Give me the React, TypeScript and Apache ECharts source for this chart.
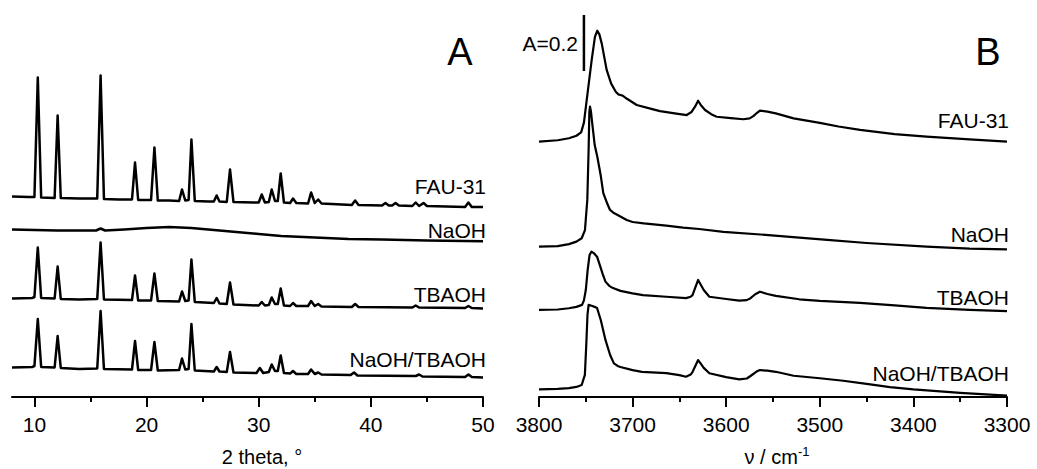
import React, { useEffect, useRef } from "react";
import * as echarts from "echarts";

const FONT = "'Liberation Sans', Arial, Helvetica, sans-serif";

// ---------- Panel A : XRD (2 theta, intensity a.u. incl. stacking offset) ----------
const xrdMajorTicks = [10, 20, 30, 40, 50];
const xrdMinorTicks = [15, 25, 35, 45];

const xrdFAU31: [number, number][] = [
  [8, 200.5], [9.5, 200], [10.0, 200], [10.3, 319.5], [10.6, 199.5], [11.8, 199], [12.07, 281.5], [12.35, 199],
  [14, 198.5], [15.6, 198.5], [15.9, 321.5], [16.2, 198], [17.5, 197.5], [18.7, 197.5], [18.97, 234.5], [19.25, 197],
  [20.4, 197], [20.7, 249.5], [21.0, 196.5], [22, 196.5], [22.9, 196], [23.16, 207.5], [23.45, 196.5], [23.75, 197],
  [24.0, 257.5], [24.3, 196], [25.5, 195.5], [26.0, 195.5], [26.25, 201.5], [26.5, 195.5], [27.15, 195], [27.44, 227.5],
  [27.75, 195], [29.5, 194.5], [30.0, 194.5], [30.27, 202.5], [30.55, 194.5], [30.9, 195], [31.16, 207.5], [31.45, 196],
  [31.7, 196], [31.96, 223.5], [32.25, 194.5], [32.8, 194], [33.06, 198.5], [33.35, 194], [34.4, 193.5], [34.67, 204.5],
  [35.0, 194], [35.3, 197.5], [35.6, 193.5], [38.3, 192], [38.6, 196.5], [38.9, 192], [41.0, 191.5], [41.3, 194],
  [41.6, 191.5], [41.9, 191.5], [42.2, 194], [42.5, 191.5], [43.7, 191], [44.0, 194.5], [44.3, 191], [44.7, 194],
  [45.0, 191], [48.4, 190], [48.7, 194.5], [49.0, 190], [50, 190],
];

const xrdNaOH: [number, number][] = [
  [8, 167.5], [10, 167], [12, 166.5], [14, 166.5], [15.5, 166.5], [15.9, 168.5], [16.3, 166.5], [18, 167.5],
  [20, 169], [22, 170], [24, 169], [26, 167], [28, 165], [30, 163], [32, 161], [35, 159.5], [38, 158],
  [41, 157.5], [45, 156.5], [50, 155.8],
];

const xrdTBAOH: [number, number][] = [
  [8, 98.5], [9.8, 99], [10.0, 100], [10.3, 149.5], [10.6, 99], [11.8, 98.5], [12.07, 130.5], [12.35, 98],
  [14, 97.5], [15.6, 98], [15.9, 154.5], [16.2, 97.5], [18.7, 97], [18.97, 121.5], [19.25, 96.5], [20.4, 96.5],
  [20.7, 123.5], [21.0, 96], [22.9, 95.5], [23.16, 105.5], [23.45, 96], [23.75, 96.5], [24.0, 137.5], [24.3, 95],
  [26.0, 94], [26.25, 99], [26.5, 93.5], [27.15, 93], [27.44, 114.5], [27.75, 92.5], [30.0, 91.5], [30.27, 95],
  [30.55, 91.5], [30.9, 92], [31.16, 99.5], [31.45, 93], [31.7, 93], [31.96, 108.5], [32.25, 91.5], [32.8, 91],
  [33.06, 94], [33.35, 91], [34.4, 91], [34.67, 96], [35.0, 91], [35.3, 93], [35.6, 90.5], [38.3, 90], [38.6, 93],
  [38.9, 90], [43.7, 89.5], [44.0, 91.5], [44.3, 89.5], [48.4, 89], [48.7, 91], [49.0, 89], [50, 88.5],
];

const xrdNaOHTBAOH: [number, number][] = [
  [8, 29.5], [9.8, 30], [10.0, 31], [10.3, 78], [10.6, 30], [11.8, 29.5], [12.07, 61], [12.35, 29], [14, 28],
  [15.6, 28.5], [15.9, 86], [16.2, 28], [18.7, 27.5], [18.97, 56], [19.25, 27], [20.4, 27], [20.7, 55], [21.0, 26.5],
  [22.9, 27], [23.16, 38.5], [23.45, 27.5], [23.75, 28], [24.0, 73], [24.3, 26.5], [26.0, 25.5], [26.25, 30],
  [26.5, 25.5], [27.15, 25], [27.44, 45], [27.75, 24.5], [29.8, 24], [30.1, 29], [30.4, 24], [30.9, 25], [31.16, 32.5],
  [31.45, 26], [31.7, 26], [31.96, 41.5], [32.25, 24], [32.8, 23.5], [33.06, 26], [33.35, 23], [34.4, 23],
  [34.67, 27.5], [35.0, 23], [35.3, 24.5], [35.6, 22.5], [38.2, 22], [38.5, 24.5], [38.8, 21.5], [44.0, 21],
  [44.3, 22.5], [44.6, 20.5], [48.4, 20], [48.7, 22.5], [49.0, 20], [50, 19.5],
];

// ---------- Panel B : IR (wavenumber, absorbance incl. stacking offset) ----------
const irFAU31: [number, number][] = [
  [3800, 0.912], [3780, 0.917], [3768, 0.924], [3760, 0.933], [3755, 0.945], [3752, 0.98], [3749, 1.061],
  [3743.7, 1.204], [3740.2, 1.287], [3737.7, 1.308], [3735.5, 1.295], [3733, 1.263], [3727.7, 1.168],
  [3723, 1.12], [3718, 1.09], [3715.3, 1.081], [3711, 1.077], [3706, 1.065], [3695.6, 1.043], [3680, 1.029],
  [3670.7, 1.021], [3655, 1.013], [3642.2, 1.007], [3637, 1.018], [3633.3, 1.037], [3630, 1.058], [3626.5, 1.04],
  [3622.6, 1.025], [3616, 1.01], [3610.2, 1.001], [3595, 0.996], [3581.7, 0.992], [3575, 0.995], [3571, 1.003],
  [3567, 1.015], [3564, 1.023], [3556, 1.019], [3547, 1.013], [3528, 0.995], [3500, 0.979], [3480, 0.966],
  [3457, 0.954], [3420, 0.939], [3386, 0.93], [3340, 0.92], [3300, 0.912],
];

const irNaOH: [number, number][] = [
  [3800, 0.537], [3780, 0.539], [3768, 0.546], [3760, 0.555], [3754.4, 0.567], [3750.9, 0.596], [3748.4, 0.704],
  [3747, 0.882], [3746.2, 1.018], [3745.5, 1.037], [3744.5, 1.02], [3743.5, 0.989], [3740.5, 0.9], [3737.7, 0.858],
  [3734, 0.79], [3731.3, 0.728], [3727, 0.69], [3724.1, 0.668], [3720, 0.657], [3716, 0.65], [3706.3, 0.632],
  [3700, 0.625], [3688, 0.62], [3664, 0.612], [3646, 0.605], [3629, 0.6], [3603, 0.59], [3558, 0.579],
  [3522, 0.569], [3492, 0.561], [3450, 0.55], [3386, 0.537], [3340, 0.53], [3300, 0.527],
];

const irTBAOH: [number, number][] = [
  [3800, 0.311], [3780, 0.3125], [3768, 0.317], [3760, 0.322], [3754, 0.329], [3752, 0.345], [3750, 0.382],
  [3748, 0.454], [3746, 0.507], [3744, 0.519], [3741.5, 0.514], [3738, 0.501], [3735, 0.471], [3732, 0.44],
  [3729, 0.412], [3725, 0.397], [3721, 0.389], [3713, 0.379], [3700, 0.37], [3689, 0.364], [3664, 0.358],
  [3643, 0.353], [3638, 0.358], [3636, 0.364], [3630, 0.418], [3627, 0.4], [3624, 0.382], [3618, 0.358],
  [3600, 0.35], [3586, 0.344], [3578, 0.346], [3574, 0.353], [3569, 0.367], [3564, 0.376], [3556, 0.368],
  [3547, 0.361], [3522, 0.349], [3500, 0.343], [3457, 0.336], [3420, 0.327], [3386, 0.318], [3340, 0.311],
  [3300, 0.307],
];

const irNaOHTBAOH: [number, number][] = [
  [3800, 0.0275], [3780, 0.029], [3768, 0.032], [3760, 0.036], [3754.4, 0.043], [3751, 0.079], [3749.5, 0.186],
  [3748.2, 0.293], [3747, 0.329], [3743, 0.325], [3740, 0.321], [3738, 0.318], [3734, 0.275], [3729, 0.204],
  [3724, 0.15], [3720, 0.12], [3716, 0.111], [3713, 0.107], [3700, 0.096], [3690, 0.09], [3664, 0.085],
  [3650, 0.078], [3643, 0.0725], [3638, 0.08], [3636, 0.089], [3630, 0.132], [3627, 0.118], [3624, 0.104],
  [3618, 0.085], [3600, 0.071], [3586, 0.063], [3578, 0.066], [3574, 0.075], [3568, 0.09], [3564, 0.096],
  [3556, 0.094], [3547, 0.09], [3528, 0.076], [3500, 0.067], [3475, 0.058], [3450, 0.047], [3425, 0.035],
  [3400, 0.027], [3350, 0.015], [3300, 0.005],
];

const sampleNames = ["FAU-31", "NaOH", "TBAOH", "NaOH/TBAOH"];
const scaleBarWavenumber = 3752;
const scaleBarRange = [1.164, 1.364]; // A = 0.2
const scaleBarText = "A=0.2";
const panelTitles = ["A", "B"];
const axisNames = ["2 theta, \u00b0", "\u03bd / cm"];

export default function App() {
  const ref = useRef<HTMLDivElement>(null);

  useEffect(() => {
    if (!ref.current) return;
    const chart = echarts.init(ref.current, undefined, { renderer: "svg" });

    const lineSeries = (data: [number, number][], xi: number, yi: number, width: number) => ({
      type: "line",
      data,
      xAxisIndex: xi,
      yAxisIndex: yi,
      symbol: "none",
      showSymbol: false,
      silent: true,
      smooth: false,
      lineStyle: { color: "#000", width, join: "round" },
      z: 3,
    });

    const labelA = [186, 230, 294.5, 359];
    const labelB = [120, 234.5, 297.5, 373];

    const txt = (text: string, x: number, y: number, size: number, align = "right") => ({
      type: "text",
      x,
      y,
      silent: true,
      style: {
        text,
        fill: "#000",
        font: `${size}px ${FONT}`,
        textAlign: align,
        textVerticalAlign: "middle",
      },
    });

    const option: any = {
      animation: false,
      backgroundColor: "#fff",
      grid: [
        { left: 12, width: 471, top: 5, height: 392 },
        { left: 539, width: 468, top: 5, height: 392 },
      ],
      xAxis: [
        {
          type: "value",
          gridIndex: 0,
          min: 8,
          max: 50,
          position: "bottom",
          axisLine: { show: true, lineStyle: { color: "#000", width: 2 } },
          axisTick: { show: true, customValues: xrdMajorTicks, length: 10, lineStyle: { color: "#000", width: 2 } },
          axisLabel: {
            show: true,
            customValues: xrdMajorTicks,
            margin: 17,
            color: "#000",
            fontSize: 21,
            fontFamily: FONT,
          },
          splitLine: { show: false },
        },
        {
          type: "value",
          gridIndex: 0,
          min: 8,
          max: 50,
          position: "bottom",
          axisLine: { show: false },
          axisTick: { show: true, customValues: xrdMinorTicks, length: 5, lineStyle: { color: "#000", width: 2 } },
          axisLabel: { show: false },
          splitLine: { show: false },
        },
        {
          type: "value",
          gridIndex: 1,
          min: 3300,
          max: 3800,
          interval: 100,
          inverse: true,
          position: "bottom",
          axisLine: { show: true, lineStyle: { color: "#000", width: 2 } },
          axisTick: { show: true, length: 10, lineStyle: { color: "#000", width: 2 } },
          minorTick: { show: true, splitNumber: 2, length: 5, lineStyle: { color: "#000", width: 2 } },
          axisLabel: {
            show: true,
            margin: 17,
            color: "#000",
            fontSize: 21,
            fontFamily: FONT,
            showMinLabel: true,
            showMaxLabel: true,
            formatter: (v: number) => String(v),
          },
          splitLine: { show: false },
        },
      ],
      yAxis: [
        { type: "value", gridIndex: 0, min: 0, max: 392, show: false, splitLine: { show: false } },
        { type: "value", gridIndex: 1, min: 0, max: 1.4, show: false, splitLine: { show: false } },
      ],
      series: [
        lineSeries(xrdFAU31, 0, 0, 2.5),
        lineSeries(xrdNaOH, 0, 0, 2.5),
        lineSeries(xrdTBAOH, 0, 0, 2.5),
        lineSeries(xrdNaOHTBAOH, 0, 0, 2.5),
        lineSeries(irFAU31, 2, 1, 2.2),
        lineSeries(irNaOH, 2, 1, 2.2),
        lineSeries(irTBAOH, 2, 1, 2.2),
        lineSeries(irNaOHTBAOH, 2, 1, 2.2),
        {
          type: "line",
          data: scaleBarRange.map((v) => [scaleBarWavenumber, v]),
          xAxisIndex: 2,
          yAxisIndex: 1,
          symbol: "none",
          silent: true,
          lineStyle: { color: "#000", width: 2.5 },
        },
      ],
      graphic: [
        ...sampleNames.map((n, i) => txt(n, 486, labelA[i], 21)),
        ...sampleNames.map((n, i) => txt(n, 1009, labelB[i], 21)),
        txt(panelTitles[0], 460, 52, 38, "center"),
        txt(panelTitles[1], 988, 52, 38, "center"),
        txt(scaleBarText, 578, 43, 21, "right"),
        txt(axisNames[0], 262, 457, 20, "center"),
        {
          type: "text",
          x: 777,
          y: 457,
          silent: true,
          style: {
            text: "{m|" + axisNames[1] + "}{s|-1}",
            textAlign: "center",
            textVerticalAlign: "middle",
            rich: {
              m: { fontSize: 20, fontFamily: FONT, fill: "#000", color: "#000" },
              s: { fontSize: 13, fontFamily: FONT, fill: "#000", color: "#000", padding: [0, 0, 12, 0] },
            },
          },
        },
      ],
    };

    chart.setOption(option);
    return () => chart.dispose();
  }, []);

  return (
    <div
      ref={ref}
      style={{ position: "absolute", left: 0, top: 0, width: 1037, height: 469, background: "#fff" }}
    />
  );
}
